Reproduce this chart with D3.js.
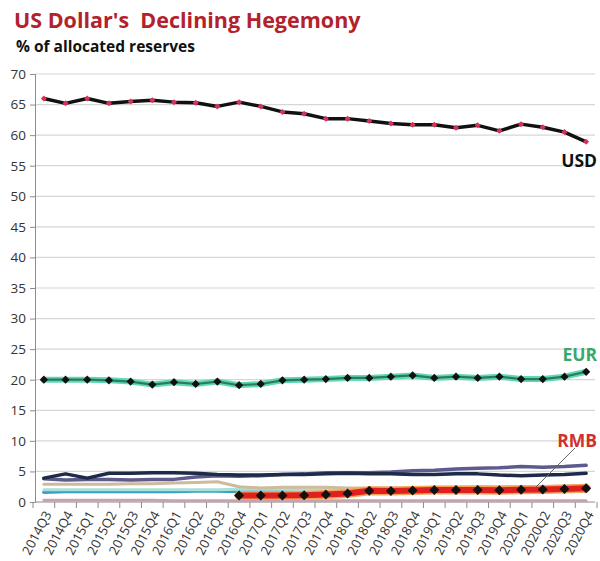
<!DOCTYPE html>
<html>
<head>
<meta charset="utf-8">
<script src="https://cdn.jsdelivr.net/npm/d3@7"></script>
<style>
  html, body { margin: 0; padding: 0; background: #ffffff; }
  svg { display: block; }
  text { font-family: "Open Sans", "DejaVu Sans", sans-serif; }
</style>
</head>
<body>
<script>
const quarters = ["2014Q3","2014Q4","2015Q1","2015Q2","2015Q3","2015Q4","2016Q1","2016Q2","2016Q3","2016Q4",
  "2017Q1","2017Q2","2017Q3","2017Q4","2018Q1","2018Q2","2018Q3","2018Q4","2019Q1","2019Q2","2019Q3","2019Q4",
  "2020Q1","2020Q2","2020Q3","2020Q4"];
const usd = [66.0,65.2,66.0,65.2,65.5,65.7,65.4,65.3,64.7,65.4,64.7,63.8,63.5,62.7,62.7,62.3,61.9,61.7,61.7,61.2,61.6,60.7,61.8,61.3,60.5,58.9];
const eur = [20.0,20.0,20.0,19.9,19.7,19.2,19.6,19.3,19.7,19.1,19.3,19.9,20.0,20.1,20.3,20.3,20.5,20.7,20.3,20.5,20.3,20.5,20.1,20.1,20.5,21.3];
const rmb = [null,null,null,null,null,null,null,null,null,1.07,1.08,1.07,1.12,1.23,1.39,1.84,1.80,1.89,1.95,1.97,1.95,1.94,2.02,2.03,2.13,2.25];
const gbp = [3.9,4.6,3.9,4.7,4.7,4.8,4.8,4.7,4.5,4.4,4.4,4.5,4.5,4.6,4.7,4.6,4.6,4.5,4.5,4.6,4.6,4.4,4.3,4.4,4.5,4.7];
const jpy = [3.8,3.6,3.7,3.7,3.6,3.7,3.7,4.1,4.3,4.2,4.3,4.5,4.6,4.8,4.8,4.8,4.9,5.1,5.2,5.4,5.5,5.6,5.8,5.7,5.8,6.0];
const other = [2.9,2.9,2.9,2.9,3.0,3.0,3.1,3.2,3.3,2.5,2.3,2.4,2.4,2.4,2.3,2.3,2.3,2.3,2.4,2.4,2.5,2.5,2.5,2.5,2.6,2.6];
const cad = [2.0,2.0,2.0,2.0,2.0,2.0,2.0,2.0,2.0,2.1,2.1,2.1,2.0,2.0,1.9,1.9,1.9,1.8,1.9,1.9,1.9,1.9,1.9,2.0,2.0,2.1];
const aud = [1.6,1.7,1.7,1.7,1.7,1.7,1.7,1.8,1.8,1.7,1.7,1.7,1.8,1.8,1.7,1.7,1.7,1.6,1.7,1.7,1.7,1.7,1.7,1.7,1.8,1.8];
const chf = [0.3,0.3,0.3,0.3,0.3,0.3,0.2,0.2,0.2,0.2,0.2,0.2,0.2,0.2,0.2,0.2,0.2,0.2,0.2,0.2,0.2,0.2,0.2,0.2,0.2,0.2];
const yTicks = [0,5,10,15,20,25,30,35,40,45,50,55,60,65,70];
const titleText = "US Dollar's  Declining Hegemony";
const subtitleText = "% of allocated reserves";

const W = 600, H = 561;
const FONT = "Lato, 'Open Sans', sans-serif";
const svg = d3.select("body").append("svg").attr("width", W).attr("height", H);

const x = d3.scaleLinear().domain([-0.5, quarters.length - 0.5]).range([33, 597]);
const y = d3.scaleLinear().domain([0, 70]).range([502, 74]);

// title
svg.append("text").attr("x", 14).attr("y", 28)
  .attr("font-size", 21.5).attr("font-weight", "bold").attr("fill", "#b3222c")
  .attr("font-family", FONT).style("white-space", "pre")
  .text(titleText);
svg.append("text").attr("x", 16).attr("y", 52)
  .attr("font-size", 15.5).attr("font-weight", "bold").attr("fill", "#111")
  .attr("font-family", FONT)
  .text(subtitleText);

// gridlines
svg.append("g").selectAll("line").data(yTicks.filter(d => d > 0)).join("line")
  .attr("x1", 35).attr("x2", 595)
  .attr("y1", d => y(d)).attr("y2", d => y(d))
  .attr("stroke", "#d6d6d6").attr("stroke-width", 1.2);

// y axis
const yAxis = d3.axisLeft(y).tickValues(yTicks).tickSize(5).tickPadding(4).tickFormat(d3.format("d"));
const gy = svg.append("g").attr("transform", "translate(35,0)").call(yAxis);
gy.select(".domain").attr("stroke", "#8c8c8c");
gy.selectAll(".tick line").attr("stroke", "#8c8c8c");
gy.selectAll(".tick text").attr("font-size", 13.5).attr("fill", "#333")
  .attr("font-family", FONT);

// x axis
const gx = svg.append("g").attr("transform", "translate(0,502)");
gx.append("line").attr("x1", 35).attr("x2", 595).attr("y1", 0).attr("y2", 0).attr("stroke", "#8c8c8c");
gx.selectAll("line.tk").data(d3.range(quarters.length + 1)).join("line").attr("class", "tk")
  .attr("x1", d => x(d - 0.5)).attr("x2", d => x(d - 0.5)).attr("y1", 0).attr("y2", 6)
  .attr("stroke", "#8c8c8c");
gx.selectAll("text").data(quarters).join("text")
  .attr("transform", (d, i) => `translate(${x(i) + 4},${10}) rotate(-62)`)
  .attr("text-anchor", "end").attr("dy", "0.35em")
  .attr("font-size", 13).attr("fill", "#333")
  .attr("font-family", FONT)
  .text(d => d);

const line = d3.line().defined(d => d != null).x((d, i) => x(i)).y(d => y(d));

function drawLine(data, color, width) {
  svg.append("path").datum(data).attr("d", line)
    .attr("fill", "none").attr("stroke", color).attr("stroke-width", width)
    .attr("stroke-linejoin", "round").attr("stroke-linecap", "round");
}
const diamond = d3.symbol().type(d3.symbolSquare);
function drawMarkers(data, color, size) {
  svg.append("g").selectAll("path").data(data.map((v, i) => [i, v]).filter(d => d[1] != null)).join("path")
    .attr("transform", d => `translate(${x(d[0])},${y(d[1])}) rotate(45)`)
    .attr("d", diamond.size(size)).attr("fill", color);
}

// minor currencies
drawLine(chf, "#c9a3aa", 3);
drawLine(aud, "#3a9fc2", 3.5);
drawLine(cad, "#a9e0d8", 3);
drawLine(other, "#cdbb9c", 3);
drawLine(jpy, "#5d5a8e", 3.5);
drawLine(gbp, "#1d2a48", 3.5);

// RMB
drawLine(rmb, "#f5a35a", 9);
drawLine(rmb, "#e0201c", 6);
drawMarkers(rmb, "#111", 50);

// EUR
drawLine(eur, "#5fd8b5", 6);
drawLine(eur, "#2c7a60", 2.2);
drawMarkers(eur, "#111", 34);

// USD
drawLine(usd, "#111", 3.5);
drawMarkers(usd, "#d8325a", 18);

// labels
svg.append("text").attr("x", 597).attr("y", 167).attr("text-anchor", "end")
  .attr("font-size", 17.5).attr("font-weight", "bold").attr("fill", "#111")
  .attr("font-family", FONT).text("USD");
svg.append("text").attr("x", 597).attr("y", 361).attr("text-anchor", "end")
  .attr("font-size", 17.5).attr("font-weight", "bold").attr("fill", "#3aa86d")
  .attr("font-family", FONT).text("EUR");
svg.append("line").attr("x1", 575).attr("y1", 448).attr("x2", 535).attr("y2", 488)
  .attr("stroke", "#666").attr("stroke-width", 1);
svg.append("text").attr("x", 597).attr("y", 447).attr("text-anchor", "end")
  .attr("font-size", 17.5).attr("font-weight", "bold").attr("fill", "#d03030")
  .attr("font-family", FONT).text("RMB");
</script>
</body>
</html>
